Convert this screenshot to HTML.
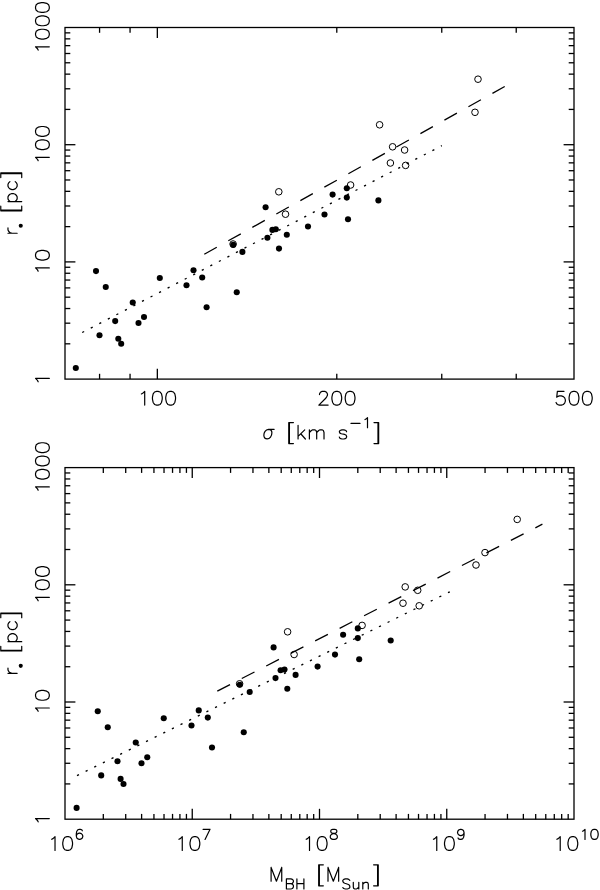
<!DOCTYPE html>
<html><head><meta charset="utf-8"><style>
html,body{margin:0;padding:0;background:#fff;}
svg{display:block;}
.t{font-family:"Liberation Sans",sans-serif;fill:#000;}
</style></head><body>
<svg width="600" height="890" viewBox="0 0 600 890">
<g stroke="#000" stroke-width="1.3" fill="none" stroke-linecap="butt">
<rect x="65.0" y="27.5" width="509.0" height="351.6" fill="none"/>
<line x1="65.00" y1="343.82" x2="70.30" y2="343.82"/>
<line x1="574.00" y1="343.82" x2="568.70" y2="343.82"/>
<line x1="65.00" y1="323.18" x2="70.30" y2="323.18"/>
<line x1="574.00" y1="323.18" x2="568.70" y2="323.18"/>
<line x1="65.00" y1="308.54" x2="70.30" y2="308.54"/>
<line x1="574.00" y1="308.54" x2="568.70" y2="308.54"/>
<line x1="65.00" y1="297.18" x2="70.30" y2="297.18"/>
<line x1="574.00" y1="297.18" x2="568.70" y2="297.18"/>
<line x1="65.00" y1="287.90" x2="70.30" y2="287.90"/>
<line x1="574.00" y1="287.90" x2="568.70" y2="287.90"/>
<line x1="65.00" y1="280.05" x2="70.30" y2="280.05"/>
<line x1="574.00" y1="280.05" x2="568.70" y2="280.05"/>
<line x1="65.00" y1="273.26" x2="70.30" y2="273.26"/>
<line x1="574.00" y1="273.26" x2="568.70" y2="273.26"/>
<line x1="65.00" y1="267.26" x2="70.30" y2="267.26"/>
<line x1="574.00" y1="267.26" x2="568.70" y2="267.26"/>
<line x1="65.00" y1="261.90" x2="75.40" y2="261.90"/>
<line x1="574.00" y1="261.90" x2="563.60" y2="261.90"/>
<line x1="65.00" y1="226.62" x2="70.30" y2="226.62"/>
<line x1="574.00" y1="226.62" x2="568.70" y2="226.62"/>
<line x1="65.00" y1="205.98" x2="70.30" y2="205.98"/>
<line x1="574.00" y1="205.98" x2="568.70" y2="205.98"/>
<line x1="65.00" y1="191.34" x2="70.30" y2="191.34"/>
<line x1="574.00" y1="191.34" x2="568.70" y2="191.34"/>
<line x1="65.00" y1="179.98" x2="70.30" y2="179.98"/>
<line x1="574.00" y1="179.98" x2="568.70" y2="179.98"/>
<line x1="65.00" y1="170.70" x2="70.30" y2="170.70"/>
<line x1="574.00" y1="170.70" x2="568.70" y2="170.70"/>
<line x1="65.00" y1="162.85" x2="70.30" y2="162.85"/>
<line x1="574.00" y1="162.85" x2="568.70" y2="162.85"/>
<line x1="65.00" y1="156.06" x2="70.30" y2="156.06"/>
<line x1="574.00" y1="156.06" x2="568.70" y2="156.06"/>
<line x1="65.00" y1="150.06" x2="70.30" y2="150.06"/>
<line x1="574.00" y1="150.06" x2="568.70" y2="150.06"/>
<line x1="65.00" y1="144.70" x2="75.40" y2="144.70"/>
<line x1="574.00" y1="144.70" x2="563.60" y2="144.70"/>
<line x1="65.00" y1="109.42" x2="70.30" y2="109.42"/>
<line x1="574.00" y1="109.42" x2="568.70" y2="109.42"/>
<line x1="65.00" y1="88.78" x2="70.30" y2="88.78"/>
<line x1="574.00" y1="88.78" x2="568.70" y2="88.78"/>
<line x1="65.00" y1="74.14" x2="70.30" y2="74.14"/>
<line x1="574.00" y1="74.14" x2="568.70" y2="74.14"/>
<line x1="65.00" y1="62.78" x2="70.30" y2="62.78"/>
<line x1="574.00" y1="62.78" x2="568.70" y2="62.78"/>
<line x1="65.00" y1="53.50" x2="70.30" y2="53.50"/>
<line x1="574.00" y1="53.50" x2="568.70" y2="53.50"/>
<line x1="65.00" y1="45.65" x2="70.30" y2="45.65"/>
<line x1="574.00" y1="45.65" x2="568.70" y2="45.65"/>
<line x1="65.00" y1="38.86" x2="70.30" y2="38.86"/>
<line x1="574.00" y1="38.86" x2="568.70" y2="38.86"/>
<line x1="65.00" y1="32.86" x2="70.30" y2="32.86"/>
<line x1="574.00" y1="32.86" x2="568.70" y2="32.86"/>
<line x1="99.57" y1="379.10" x2="99.57" y2="373.80"/>
<line x1="99.57" y1="27.50" x2="99.57" y2="32.80"/>
<line x1="130.06" y1="379.10" x2="130.06" y2="373.80"/>
<line x1="130.06" y1="27.50" x2="130.06" y2="32.80"/>
<line x1="157.34" y1="379.10" x2="157.34" y2="368.70"/>
<line x1="157.34" y1="27.50" x2="157.34" y2="37.90"/>
<line x1="336.78" y1="379.10" x2="336.78" y2="373.80"/>
<line x1="336.78" y1="27.50" x2="336.78" y2="32.80"/>
<line x1="441.75" y1="379.10" x2="441.75" y2="373.80"/>
<line x1="441.75" y1="27.50" x2="441.75" y2="32.80"/>
<line x1="516.23" y1="379.10" x2="516.23" y2="373.80"/>
<line x1="516.23" y1="27.50" x2="516.23" y2="32.80"/>
<rect x="65.0" y="467.6" width="509.0" height="351.6" fill="none"/>
<line x1="65.00" y1="783.92" x2="70.30" y2="783.92"/>
<line x1="574.00" y1="783.92" x2="568.70" y2="783.92"/>
<line x1="65.00" y1="763.28" x2="70.30" y2="763.28"/>
<line x1="574.00" y1="763.28" x2="568.70" y2="763.28"/>
<line x1="65.00" y1="748.64" x2="70.30" y2="748.64"/>
<line x1="574.00" y1="748.64" x2="568.70" y2="748.64"/>
<line x1="65.00" y1="737.28" x2="70.30" y2="737.28"/>
<line x1="574.00" y1="737.28" x2="568.70" y2="737.28"/>
<line x1="65.00" y1="728.00" x2="70.30" y2="728.00"/>
<line x1="574.00" y1="728.00" x2="568.70" y2="728.00"/>
<line x1="65.00" y1="720.15" x2="70.30" y2="720.15"/>
<line x1="574.00" y1="720.15" x2="568.70" y2="720.15"/>
<line x1="65.00" y1="713.36" x2="70.30" y2="713.36"/>
<line x1="574.00" y1="713.36" x2="568.70" y2="713.36"/>
<line x1="65.00" y1="707.36" x2="70.30" y2="707.36"/>
<line x1="574.00" y1="707.36" x2="568.70" y2="707.36"/>
<line x1="65.00" y1="702.00" x2="75.40" y2="702.00"/>
<line x1="574.00" y1="702.00" x2="563.60" y2="702.00"/>
<line x1="65.00" y1="666.72" x2="70.30" y2="666.72"/>
<line x1="574.00" y1="666.72" x2="568.70" y2="666.72"/>
<line x1="65.00" y1="646.08" x2="70.30" y2="646.08"/>
<line x1="574.00" y1="646.08" x2="568.70" y2="646.08"/>
<line x1="65.00" y1="631.44" x2="70.30" y2="631.44"/>
<line x1="574.00" y1="631.44" x2="568.70" y2="631.44"/>
<line x1="65.00" y1="620.08" x2="70.30" y2="620.08"/>
<line x1="574.00" y1="620.08" x2="568.70" y2="620.08"/>
<line x1="65.00" y1="610.80" x2="70.30" y2="610.80"/>
<line x1="574.00" y1="610.80" x2="568.70" y2="610.80"/>
<line x1="65.00" y1="602.95" x2="70.30" y2="602.95"/>
<line x1="574.00" y1="602.95" x2="568.70" y2="602.95"/>
<line x1="65.00" y1="596.16" x2="70.30" y2="596.16"/>
<line x1="574.00" y1="596.16" x2="568.70" y2="596.16"/>
<line x1="65.00" y1="590.16" x2="70.30" y2="590.16"/>
<line x1="574.00" y1="590.16" x2="568.70" y2="590.16"/>
<line x1="65.00" y1="584.80" x2="75.40" y2="584.80"/>
<line x1="574.00" y1="584.80" x2="563.60" y2="584.80"/>
<line x1="65.00" y1="549.52" x2="70.30" y2="549.52"/>
<line x1="574.00" y1="549.52" x2="568.70" y2="549.52"/>
<line x1="65.00" y1="528.88" x2="70.30" y2="528.88"/>
<line x1="574.00" y1="528.88" x2="568.70" y2="528.88"/>
<line x1="65.00" y1="514.24" x2="70.30" y2="514.24"/>
<line x1="574.00" y1="514.24" x2="568.70" y2="514.24"/>
<line x1="65.00" y1="502.88" x2="70.30" y2="502.88"/>
<line x1="574.00" y1="502.88" x2="568.70" y2="502.88"/>
<line x1="65.00" y1="493.60" x2="70.30" y2="493.60"/>
<line x1="574.00" y1="493.60" x2="568.70" y2="493.60"/>
<line x1="65.00" y1="485.75" x2="70.30" y2="485.75"/>
<line x1="574.00" y1="485.75" x2="568.70" y2="485.75"/>
<line x1="65.00" y1="478.96" x2="70.30" y2="478.96"/>
<line x1="574.00" y1="478.96" x2="568.70" y2="478.96"/>
<line x1="65.00" y1="472.96" x2="70.30" y2="472.96"/>
<line x1="574.00" y1="472.96" x2="568.70" y2="472.96"/>
<line x1="103.31" y1="819.20" x2="103.31" y2="813.90"/>
<line x1="103.31" y1="467.60" x2="103.31" y2="472.90"/>
<line x1="125.71" y1="819.20" x2="125.71" y2="813.90"/>
<line x1="125.71" y1="467.60" x2="125.71" y2="472.90"/>
<line x1="141.61" y1="819.20" x2="141.61" y2="813.90"/>
<line x1="141.61" y1="467.60" x2="141.61" y2="472.90"/>
<line x1="153.94" y1="819.20" x2="153.94" y2="813.90"/>
<line x1="153.94" y1="467.60" x2="153.94" y2="472.90"/>
<line x1="164.02" y1="819.20" x2="164.02" y2="813.90"/>
<line x1="164.02" y1="467.60" x2="164.02" y2="472.90"/>
<line x1="172.54" y1="819.20" x2="172.54" y2="813.90"/>
<line x1="172.54" y1="467.60" x2="172.54" y2="472.90"/>
<line x1="179.92" y1="819.20" x2="179.92" y2="813.90"/>
<line x1="179.92" y1="467.60" x2="179.92" y2="472.90"/>
<line x1="186.43" y1="819.20" x2="186.43" y2="813.90"/>
<line x1="186.43" y1="467.60" x2="186.43" y2="472.90"/>
<line x1="192.25" y1="819.20" x2="192.25" y2="808.80"/>
<line x1="192.25" y1="467.60" x2="192.25" y2="478.00"/>
<line x1="230.56" y1="819.20" x2="230.56" y2="813.90"/>
<line x1="230.56" y1="467.60" x2="230.56" y2="472.90"/>
<line x1="252.96" y1="819.20" x2="252.96" y2="813.90"/>
<line x1="252.96" y1="467.60" x2="252.96" y2="472.90"/>
<line x1="268.86" y1="819.20" x2="268.86" y2="813.90"/>
<line x1="268.86" y1="467.60" x2="268.86" y2="472.90"/>
<line x1="281.19" y1="819.20" x2="281.19" y2="813.90"/>
<line x1="281.19" y1="467.60" x2="281.19" y2="472.90"/>
<line x1="291.27" y1="819.20" x2="291.27" y2="813.90"/>
<line x1="291.27" y1="467.60" x2="291.27" y2="472.90"/>
<line x1="299.79" y1="819.20" x2="299.79" y2="813.90"/>
<line x1="299.79" y1="467.60" x2="299.79" y2="472.90"/>
<line x1="307.17" y1="819.20" x2="307.17" y2="813.90"/>
<line x1="307.17" y1="467.60" x2="307.17" y2="472.90"/>
<line x1="313.68" y1="819.20" x2="313.68" y2="813.90"/>
<line x1="313.68" y1="467.60" x2="313.68" y2="472.90"/>
<line x1="319.50" y1="819.20" x2="319.50" y2="808.80"/>
<line x1="319.50" y1="467.60" x2="319.50" y2="478.00"/>
<line x1="357.81" y1="819.20" x2="357.81" y2="813.90"/>
<line x1="357.81" y1="467.60" x2="357.81" y2="472.90"/>
<line x1="380.21" y1="819.20" x2="380.21" y2="813.90"/>
<line x1="380.21" y1="467.60" x2="380.21" y2="472.90"/>
<line x1="396.11" y1="819.20" x2="396.11" y2="813.90"/>
<line x1="396.11" y1="467.60" x2="396.11" y2="472.90"/>
<line x1="408.44" y1="819.20" x2="408.44" y2="813.90"/>
<line x1="408.44" y1="467.60" x2="408.44" y2="472.90"/>
<line x1="418.52" y1="819.20" x2="418.52" y2="813.90"/>
<line x1="418.52" y1="467.60" x2="418.52" y2="472.90"/>
<line x1="427.04" y1="819.20" x2="427.04" y2="813.90"/>
<line x1="427.04" y1="467.60" x2="427.04" y2="472.90"/>
<line x1="434.42" y1="819.20" x2="434.42" y2="813.90"/>
<line x1="434.42" y1="467.60" x2="434.42" y2="472.90"/>
<line x1="440.93" y1="819.20" x2="440.93" y2="813.90"/>
<line x1="440.93" y1="467.60" x2="440.93" y2="472.90"/>
<line x1="446.75" y1="819.20" x2="446.75" y2="808.80"/>
<line x1="446.75" y1="467.60" x2="446.75" y2="478.00"/>
<line x1="485.06" y1="819.20" x2="485.06" y2="813.90"/>
<line x1="485.06" y1="467.60" x2="485.06" y2="472.90"/>
<line x1="507.46" y1="819.20" x2="507.46" y2="813.90"/>
<line x1="507.46" y1="467.60" x2="507.46" y2="472.90"/>
<line x1="523.36" y1="819.20" x2="523.36" y2="813.90"/>
<line x1="523.36" y1="467.60" x2="523.36" y2="472.90"/>
<line x1="535.69" y1="819.20" x2="535.69" y2="813.90"/>
<line x1="535.69" y1="467.60" x2="535.69" y2="472.90"/>
<line x1="545.77" y1="819.20" x2="545.77" y2="813.90"/>
<line x1="545.77" y1="467.60" x2="545.77" y2="472.90"/>
<line x1="554.29" y1="819.20" x2="554.29" y2="813.90"/>
<line x1="554.29" y1="467.60" x2="554.29" y2="472.90"/>
<line x1="561.67" y1="819.20" x2="561.67" y2="813.90"/>
<line x1="561.67" y1="467.60" x2="561.67" y2="472.90"/>
<line x1="568.18" y1="819.20" x2="568.18" y2="813.90"/>
<line x1="568.18" y1="467.60" x2="568.18" y2="472.90"/>
</g>
<g stroke="#000" fill="none">
<line x1="204.3" y1="254.2" x2="504.7" y2="86.5" stroke-dasharray="14.3 13.2" stroke-width="1.3"/>
<line x1="82.2" y1="332.5" x2="441.8" y2="145.67" stroke-dasharray="2.2 7.425" stroke-width="1.35"/>
<line x1="217.3" y1="691.1" x2="542.4" y2="524.2" stroke-dasharray="14.3 13.2" stroke-width="1.3"/>
<line x1="77.0" y1="775.7" x2="449.8" y2="591.8" stroke-dasharray="2.2 7.420" stroke-width="1.35"/>
</g>
<g>
<circle cx="233.1" cy="244.0" r="3.3" fill="none" stroke="#000" stroke-width="1.0"/>
<circle cx="278.8" cy="191.8" r="3.3" fill="none" stroke="#000" stroke-width="1.0"/>
<circle cx="285.5" cy="214.2" r="3.3" fill="none" stroke="#000" stroke-width="1.0"/>
<circle cx="350.6" cy="185" r="3.3" fill="none" stroke="#000" stroke-width="1.0"/>
<circle cx="379.6" cy="124.8" r="3.3" fill="none" stroke="#000" stroke-width="1.0"/>
<circle cx="392.6" cy="146.8" r="3.3" fill="none" stroke="#000" stroke-width="1.0"/>
<circle cx="404.6" cy="150" r="3.3" fill="none" stroke="#000" stroke-width="1.0"/>
<circle cx="390.4" cy="163" r="3.3" fill="none" stroke="#000" stroke-width="1.0"/>
<circle cx="405.6" cy="165.4" r="3.3" fill="none" stroke="#000" stroke-width="1.0"/>
<circle cx="475" cy="112.3" r="3.3" fill="none" stroke="#000" stroke-width="1.0"/>
<circle cx="478" cy="79.2" r="3.3" fill="none" stroke="#000" stroke-width="1.0"/>
<circle cx="239.6" cy="683.8" r="3.3" fill="none" stroke="#000" stroke-width="1.0"/>
<circle cx="287.6" cy="631.8" r="3.3" fill="none" stroke="#000" stroke-width="1.0"/>
<circle cx="294.1" cy="654.5" r="3.3" fill="none" stroke="#000" stroke-width="1.0"/>
<circle cx="362.1" cy="625.4" r="3.3" fill="none" stroke="#000" stroke-width="1.0"/>
<circle cx="405.2" cy="586.9" r="3.3" fill="none" stroke="#000" stroke-width="1.0"/>
<circle cx="417.7" cy="590.3" r="3.3" fill="none" stroke="#000" stroke-width="1.0"/>
<circle cx="403" cy="603.2" r="3.3" fill="none" stroke="#000" stroke-width="1.0"/>
<circle cx="419.2" cy="605.8" r="3.3" fill="none" stroke="#000" stroke-width="1.0"/>
<circle cx="476" cy="565" r="3.3" fill="none" stroke="#000" stroke-width="1.0"/>
<circle cx="485" cy="552.6" r="3.3" fill="none" stroke="#000" stroke-width="1.0"/>
<circle cx="517.2" cy="519.4" r="3.3" fill="none" stroke="#000" stroke-width="1.0"/>
<circle cx="75.8" cy="368.0" r="3.05"/>
<circle cx="96" cy="271.1" r="3.05"/>
<circle cx="105.75" cy="287" r="3.05"/>
<circle cx="99.5" cy="335.2" r="3.05"/>
<circle cx="115.2" cy="321.1" r="3.05"/>
<circle cx="118.3" cy="338.7" r="3.05"/>
<circle cx="121.2" cy="343.7" r="3.05"/>
<circle cx="132.75" cy="302.5" r="3.05"/>
<circle cx="138.5" cy="323" r="3.05"/>
<circle cx="144" cy="317" r="3.05"/>
<circle cx="159.8" cy="278" r="3.05"/>
<circle cx="186.5" cy="285.3" r="3.05"/>
<circle cx="193.5" cy="270.2" r="3.05"/>
<circle cx="202.2" cy="277.5" r="3.05"/>
<circle cx="206.6" cy="307.25" r="3.05"/>
<circle cx="233.2" cy="244.9" r="3.05"/>
<circle cx="242.4" cy="251.9" r="3.05"/>
<circle cx="236.75" cy="292.25" r="3.05"/>
<circle cx="265.6" cy="207.2" r="3.05"/>
<circle cx="267.4" cy="237.8" r="3.05"/>
<circle cx="272.4" cy="229.9" r="3.05"/>
<circle cx="275.8" cy="229.2" r="3.05"/>
<circle cx="279" cy="248.6" r="3.05"/>
<circle cx="286.8" cy="234.8" r="3.05"/>
<circle cx="308" cy="226.5" r="3.05"/>
<circle cx="324.5" cy="214.5" r="3.05"/>
<circle cx="332.6" cy="194.6" r="3.05"/>
<circle cx="346.8" cy="188.2" r="3.05"/>
<circle cx="346.8" cy="197.6" r="3.05"/>
<circle cx="348" cy="219.2" r="3.05"/>
<circle cx="378.4" cy="200.4" r="3.05"/>
<circle cx="76.6" cy="807.9" r="3.05"/>
<circle cx="97.75" cy="711.2" r="3.05"/>
<circle cx="107.75" cy="727.2" r="3.05"/>
<circle cx="101.2" cy="775.4" r="3.05"/>
<circle cx="117.5" cy="761.3" r="3.05"/>
<circle cx="120.6" cy="778.9" r="3.05"/>
<circle cx="123.5" cy="784" r="3.05"/>
<circle cx="135.75" cy="742.5" r="3.05"/>
<circle cx="141.5" cy="763.2" r="3.05"/>
<circle cx="147.25" cy="757.2" r="3.05"/>
<circle cx="163.75" cy="718.2" r="3.05"/>
<circle cx="191.5" cy="725.5" r="3.05"/>
<circle cx="198.75" cy="710.4" r="3.05"/>
<circle cx="207.8" cy="717.6" r="3.05"/>
<circle cx="212" cy="747.5" r="3.05"/>
<circle cx="239.8" cy="684.7" r="3.05"/>
<circle cx="249.7" cy="692.0" r="3.05"/>
<circle cx="243.75" cy="732.3" r="3.05"/>
<circle cx="273.6" cy="647.4" r="3.05"/>
<circle cx="275.5" cy="678.1" r="3.05"/>
<circle cx="280.6" cy="670.2" r="3.05"/>
<circle cx="284.5" cy="669.6" r="3.05"/>
<circle cx="287.3" cy="688.7" r="3.05"/>
<circle cx="295.6" cy="674.9" r="3.05"/>
<circle cx="317.6" cy="666.6" r="3.05"/>
<circle cx="335" cy="654.6" r="3.05"/>
<circle cx="343.1" cy="634.8" r="3.05"/>
<circle cx="357.8" cy="628.4" r="3.05"/>
<circle cx="357.8" cy="638.1" r="3.05"/>
<circle cx="359.2" cy="659.2" r="3.05"/>
<circle cx="390.7" cy="640.5" r="3.05"/>
</g>
<g fill="none" stroke="#000" stroke-width="1.2" stroke-linecap="round" stroke-linejoin="round">
<path d="M38.16 381.76 L37.51 380.43 L35.54 378.44 L49.30 378.44"/>
<path d="M38.16 271.21 L37.51 269.88 L35.54 267.89 L49.30 267.89 M35.54 255.95 L36.20 258.04 L38.16 259.44 L41.44 260.14 L43.40 260.14 L46.68 259.44 L48.64 258.04 L49.30 255.95 L49.30 254.55 L48.64 252.46 L46.68 251.06 L43.40 250.36 L41.44 250.36 L38.16 251.06 L36.20 252.46 L35.54 254.55 L35.54 255.95"/>
<path d="M38.16 160.66 L37.51 159.33 L35.54 157.34 L49.30 157.34 M35.54 145.40 L36.20 147.49 L38.16 148.89 L41.44 149.59 L43.40 149.59 L46.68 148.89 L48.64 147.49 L49.30 145.40 L49.30 144.00 L48.64 141.91 L46.68 140.51 L43.40 139.81 L41.44 139.81 L38.16 140.51 L36.20 141.91 L35.54 144.00 L35.54 145.40 M35.54 132.10 L36.20 134.19 L38.16 135.59 L41.44 136.29 L43.40 136.29 L46.68 135.59 L48.64 134.19 L49.30 132.10 L49.30 130.70 L48.64 128.61 L46.68 127.21 L43.40 126.51 L41.44 126.51 L38.16 127.21 L36.20 128.61 L35.54 130.70 L35.54 132.10"/>
<path d="M38.16 50.11 L37.51 48.78 L35.54 46.78 L49.30 46.78 M35.54 34.85 L36.20 36.94 L38.16 38.34 L41.44 39.04 L43.40 39.04 L46.68 38.34 L48.64 36.94 L49.30 34.85 L49.30 33.45 L48.64 31.36 L46.68 29.96 L43.40 29.26 L41.44 29.26 L38.16 29.96 L36.20 31.36 L35.54 33.45 L35.54 34.85 M35.54 21.55 L36.20 23.64 L38.16 25.04 L41.44 25.74 L43.40 25.74 L46.68 25.04 L48.64 23.64 L49.30 21.55 L49.30 20.15 L48.64 18.06 L46.68 16.66 L43.40 15.96 L41.44 15.96 L38.16 16.66 L36.20 18.06 L35.54 20.15 L35.54 21.55 M35.54 8.25 L36.20 10.34 L38.16 11.74 L41.44 12.44 L43.40 12.44 L46.68 11.74 L48.64 10.34 L49.30 8.25 L49.30 6.85 L48.64 4.76 L46.68 3.36 L43.40 2.66 L41.44 2.66 L38.16 3.36 L36.20 4.76 L35.54 6.85 L35.54 8.25"/>
<path d="M7.98 233.24 L17.15 233.24 M11.91 233.24 L9.94 232.58 L8.63 231.25 L7.98 229.91 L7.98 227.92"/>
<path d="M0.77 210.84 L21.73 210.84 M0.77 210.18 L21.73 210.18 M0.77 210.84 L0.77 206.19 M21.73 210.84 L21.73 206.19 M7.98 201.53 L21.73 201.53 M9.94 201.53 L8.63 200.20 L7.98 198.87 L7.98 196.88 L8.63 195.54 L9.94 194.22 L11.91 193.55 L13.22 193.55 L15.18 194.22 L16.49 195.54 L17.15 196.88 L17.15 198.87 L16.49 200.20 L15.18 201.53 M9.94 181.58 L8.63 182.91 L7.98 184.24 L7.98 186.24 L8.63 187.56 L9.94 188.90 L11.91 189.56 L13.22 189.56 L15.18 188.90 L16.49 187.56 L17.15 186.24 L17.15 184.24 L16.49 182.91 L15.18 181.58 M0.77 173.60 L21.73 173.60 M0.77 172.94 L21.73 172.94 M0.77 177.59 L0.77 172.94 M21.73 177.59 L21.73 172.94"/>
<path d="M38.16 821.86 L37.51 820.53 L35.54 818.53 L49.30 818.53"/>
<path d="M38.16 711.31 L37.51 709.98 L35.54 707.98 L49.30 707.98 M35.54 696.05 L36.20 698.14 L38.16 699.54 L41.44 700.24 L43.40 700.24 L46.68 699.54 L48.64 698.14 L49.30 696.05 L49.30 694.65 L48.64 692.56 L46.68 691.16 L43.40 690.46 L41.44 690.46 L38.16 691.16 L36.20 692.56 L35.54 694.65 L35.54 696.05"/>
<path d="M38.16 600.76 L37.51 599.43 L35.54 597.44 L49.30 597.44 M35.54 585.50 L36.20 587.59 L38.16 588.99 L41.44 589.69 L43.40 589.69 L46.68 588.99 L48.64 587.59 L49.30 585.50 L49.30 584.10 L48.64 582.01 L46.68 580.61 L43.40 579.91 L41.44 579.91 L38.16 580.61 L36.20 582.01 L35.54 584.10 L35.54 585.50 M35.54 572.20 L36.20 574.29 L38.16 575.69 L41.44 576.39 L43.40 576.39 L46.68 575.69 L48.64 574.29 L49.30 572.20 L49.30 570.80 L48.64 568.71 L46.68 567.31 L43.40 566.61 L41.44 566.61 L38.16 567.31 L36.20 568.71 L35.54 570.80 L35.54 572.20"/>
<path d="M38.16 490.21 L37.51 488.88 L35.54 486.88 L49.30 486.88 M35.54 474.95 L36.20 477.04 L38.16 478.44 L41.44 479.14 L43.40 479.14 L46.68 478.44 L48.64 477.04 L49.30 474.95 L49.30 473.55 L48.64 471.46 L46.68 470.06 L43.40 469.36 L41.44 469.36 L38.16 470.06 L36.20 471.46 L35.54 473.55 L35.54 474.95 M35.54 461.65 L36.20 463.74 L38.16 465.14 L41.44 465.84 L43.40 465.84 L46.68 465.14 L48.64 463.74 L49.30 461.65 L49.30 460.25 L48.64 458.16 L46.68 456.76 L43.40 456.06 L41.44 456.06 L38.16 456.76 L36.20 458.16 L35.54 460.25 L35.54 461.65 M35.54 448.35 L36.20 450.44 L38.16 451.84 L41.44 452.54 L43.40 452.54 L46.68 451.84 L48.64 450.44 L49.30 448.35 L49.30 446.95 L48.64 444.86 L46.68 443.46 L43.40 442.76 L41.44 442.76 L38.16 443.46 L36.20 444.86 L35.54 446.95 L35.54 448.35"/>
<path d="M7.98 673.34 L17.15 673.34 M11.91 673.34 L9.94 672.67 L8.63 671.35 L7.98 670.01 L7.98 668.02"/>
<path d="M0.77 650.94 L21.73 650.94 M0.77 650.27 L21.73 650.27 M0.77 650.94 L0.77 646.28 M21.73 650.94 L21.73 646.28 M7.98 641.63 L21.73 641.63 M9.94 641.63 L8.63 640.30 L7.98 638.97 L7.98 636.98 L8.63 635.65 L9.94 634.32 L11.91 633.65 L13.22 633.65 L15.18 634.32 L16.49 635.65 L17.15 636.98 L17.15 638.97 L16.49 640.30 L15.18 641.63 M9.94 621.68 L8.63 623.01 L7.98 624.34 L7.98 626.34 L8.63 627.67 L9.94 629.00 L11.91 629.66 L13.22 629.66 L15.18 629.00 L16.49 627.67 L17.15 626.34 L17.15 624.34 L16.49 623.01 L15.18 621.68 M0.77 613.70 L21.73 613.70 M0.77 613.04 L21.73 613.04 M0.77 617.69 L0.77 613.04 M21.73 617.69 L21.73 613.04"/>
<path d="M141.38 393.97 L142.71 393.31 L144.70 391.35 L144.70 405.10 M156.64 391.35 L154.55 392.00 L153.15 393.97 L152.45 397.24 L152.45 399.21 L153.15 402.48 L154.55 404.45 L156.64 405.10 L158.04 405.10 L160.13 404.45 L161.53 402.48 L162.23 399.21 L162.23 397.24 L161.53 393.97 L160.13 392.00 L158.04 391.35 L156.64 391.35 M169.94 391.35 L167.85 392.00 L166.45 393.97 L165.75 397.24 L165.75 399.21 L166.45 402.48 L167.85 404.45 L169.94 405.10 L171.34 405.10 L173.43 404.45 L174.83 402.48 L175.53 399.21 L175.53 397.24 L174.83 393.97 L173.43 392.00 L171.34 391.35 L169.94 391.35"/>
<path d="M319.49 394.62 L319.49 393.97 L320.16 392.66 L320.82 392.00 L322.15 391.35 L324.81 391.35 L326.14 392.00 L326.81 392.66 L327.47 393.97 L327.47 395.28 L326.81 396.59 L325.48 398.55 L318.83 405.10 L328.14 405.10 M336.09 391.35 L333.99 392.00 L332.60 393.97 L331.90 397.24 L331.90 399.21 L332.60 402.48 L333.99 404.45 L336.09 405.10 L337.48 405.10 L339.58 404.45 L340.97 402.48 L341.67 399.21 L341.67 397.24 L340.97 393.97 L339.58 392.00 L337.48 391.35 L336.09 391.35 M349.39 391.35 L347.29 392.00 L345.90 393.97 L345.20 397.24 L345.20 399.21 L345.90 402.48 L347.29 404.45 L349.39 405.10 L350.78 405.10 L352.88 404.45 L354.27 402.48 L354.97 399.21 L354.97 397.24 L354.27 393.97 L352.88 392.00 L350.78 391.35 L349.39 391.35"/>
<path d="M564.02 391.35 L557.37 391.35 L556.71 397.24 L557.37 396.59 L559.37 395.93 L561.36 395.93 L563.36 396.59 L564.69 397.90 L565.35 399.86 L565.35 401.17 L564.69 403.14 L563.36 404.45 L561.36 405.10 L559.37 405.10 L557.37 404.45 L556.71 403.79 L556.04 402.48 M573.30 391.35 L571.21 392.00 L569.81 393.97 L569.11 397.24 L569.11 399.21 L569.81 402.48 L571.21 404.45 L573.30 405.10 L574.70 405.10 L576.79 404.45 L578.19 402.48 L578.89 399.21 L578.89 397.24 L578.19 393.97 L576.79 392.00 L574.70 391.35 L573.30 391.35 M586.60 391.35 L584.51 392.00 L583.11 393.97 L582.41 397.24 L582.41 399.21 L583.11 402.48 L584.51 404.45 L586.60 405.10 L588.00 405.10 L590.09 404.45 L591.49 402.48 L592.19 399.21 L592.19 397.24 L591.49 393.97 L590.09 392.00 L588.00 391.35 L586.60 391.35"/>
<path d="M274.15 429.3 L268.5 429.3 C265.5 429.5 263.8 432.5 263.85 435.3 C263.9 437.5 265.2 438.9 267.2 438.9 C269.8 438.9 271.9 436 271.9 432.8 C271.9 430.5 270.5 429.3 268.5 429.3"/>
<path d="M288.76 422.62 L288.76 443.58 M289.43 422.62 L289.43 443.58 M288.76 422.62 L293.42 422.62 M288.76 443.58 L293.42 443.58 M298.07 425.25 L298.07 439.00 M304.72 429.83 L298.07 436.38 M300.73 433.76 L305.39 439.00 M309.38 429.83 L309.38 439.00 M309.38 432.45 L311.37 430.49 L312.70 429.83 L314.70 429.83 L316.03 430.49 L316.69 432.45 L316.69 439.00 M316.69 432.45 L318.69 430.49 L320.02 429.83 L322.01 429.83 L323.34 430.49 L324.01 432.45 L324.01 439.00 M346.62 431.80 L345.95 430.49 L343.95 429.83 L341.96 429.83 L339.97 430.49 L339.30 431.80 L339.97 433.11 L341.30 433.76 L344.62 434.42 L345.95 435.07 L346.62 436.38 L346.62 437.04 L345.95 438.35 L343.95 439.00 L341.96 439.00 L339.97 438.35 L339.30 437.04"/>
<path d="M351.00 423.38 L360.00 423.38 M365.00 419.54 L366.00 419.06 L367.50 417.62 L367.50 427.70"/>
<path d="M377.99 422.62 L377.99 443.58 M378.65 422.62 L378.65 443.58 M374.00 422.62 L378.65 422.62 M374.00 443.58 L378.65 443.58"/>
<path d="M51.69 839.26 L53.02 838.61 L55.02 836.64 L55.02 850.40 M66.95 836.64 L64.86 837.30 L63.46 839.26 L62.76 842.54 L62.76 844.50 L63.46 847.78 L64.86 849.75 L66.95 850.40 L68.35 850.40 L70.44 849.75 L71.84 847.78 L72.54 844.50 L72.54 842.54 L71.84 839.26 L70.44 837.30 L68.35 836.64 L66.95 836.64"/>
<path d="M82.30 830.76 L81.80 829.80 L80.30 829.32 L79.30 829.32 L77.80 829.80 L76.80 831.24 L76.30 833.64 L76.30 836.04 L76.80 837.96 L77.80 838.92 L79.30 839.40 L79.80 839.40 L81.30 838.92 L82.30 837.96 L82.80 836.52 L82.80 836.04 L82.30 834.60 L81.30 833.64 L79.80 833.16 L79.30 833.16 L77.80 833.64 L76.80 834.60 L76.30 836.04"/>
<path d="M178.94 839.26 L180.27 838.61 L182.26 836.64 L182.26 850.40 M194.20 836.64 L192.11 837.30 L190.71 839.26 L190.01 842.54 L190.01 844.50 L190.71 847.78 L192.11 849.75 L194.20 850.40 L195.60 850.40 L197.69 849.75 L199.09 847.78 L199.79 844.50 L199.79 842.54 L199.09 839.26 L197.69 837.30 L195.60 836.64 L194.20 836.64"/>
<path d="M210.05 829.32 L205.05 839.40 M203.05 829.32 L210.05 829.32"/>
<path d="M306.19 839.26 L307.52 838.61 L309.51 836.64 L309.51 850.40 M321.45 836.64 L319.36 837.30 L317.96 839.26 L317.26 842.54 L317.26 844.50 L317.96 847.78 L319.36 849.75 L321.45 850.40 L322.85 850.40 L324.94 849.75 L326.34 847.78 L327.04 844.50 L327.04 842.54 L326.34 839.26 L324.94 837.30 L322.85 836.64 L321.45 836.64"/>
<path d="M332.80 829.32 L331.30 829.80 L330.80 830.76 L330.80 831.72 L331.30 832.68 L332.30 833.16 L334.30 833.64 L335.80 834.12 L336.80 835.08 L337.30 836.04 L337.30 837.48 L336.80 838.44 L336.30 838.92 L334.80 839.40 L332.80 839.40 L331.30 838.92 L330.80 838.44 L330.30 837.48 L330.30 836.04 L330.80 835.08 L331.80 834.12 L333.30 833.64 L335.30 833.16 L336.30 832.68 L336.80 831.72 L336.80 830.76 L336.30 829.80 L334.80 829.32 L332.80 829.32"/>
<path d="M433.44 839.26 L434.77 838.61 L436.76 836.64 L436.76 850.40 M448.70 836.64 L446.61 837.30 L445.21 839.26 L444.51 842.54 L444.51 844.50 L445.21 847.78 L446.61 849.75 L448.70 850.40 L450.10 850.40 L452.19 849.75 L453.59 847.78 L454.29 844.50 L454.29 842.54 L453.59 839.26 L452.19 837.30 L450.10 836.64 L448.70 836.64"/>
<path d="M464.05 832.68 L463.55 834.12 L462.55 835.08 L461.05 835.56 L460.55 835.56 L459.05 835.08 L458.05 834.12 L457.55 832.68 L457.55 832.20 L458.05 830.76 L459.05 829.80 L460.55 829.32 L461.05 829.32 L462.55 829.80 L463.55 830.76 L464.05 832.68 L464.05 835.08 L463.55 837.48 L462.55 838.92 L461.05 839.40 L460.05 839.40 L458.55 838.92 L458.05 837.96"/>
<path d="M556.89 839.26 L558.22 838.61 L560.22 836.64 L560.22 850.40 M572.15 836.64 L570.06 837.30 L568.66 839.26 L567.96 842.54 L567.96 844.50 L568.66 847.78 L570.06 849.75 L572.15 850.40 L573.55 850.40 L575.64 849.75 L577.04 847.78 L577.74 844.50 L577.74 842.54 L577.04 839.26 L575.64 837.30 L573.55 836.64 L572.15 836.64"/>
<path d="M582.50 831.24 L583.50 830.76 L585.00 829.32 L585.00 839.40 M593.97 829.32 L592.40 829.80 L591.35 831.24 L590.82 833.64 L590.82 835.08 L591.35 837.48 L592.40 838.92 L593.97 839.40 L595.02 839.40 L596.60 838.92 L597.65 837.48 L598.17 835.08 L598.17 833.64 L597.65 831.24 L596.60 829.80 L595.02 829.32 L593.97 829.32"/>
<path d="M271.10 867.45 L271.10 881.20 M271.10 867.45 L276.42 881.20 M281.74 867.45 L276.42 881.20 M281.74 867.45 L281.74 881.20"/>
<path d="M286.40 878.92 L286.40 889.00 M286.40 878.92 L290.90 878.92 L292.40 879.40 L292.90 879.88 L293.40 880.84 L293.40 881.80 L292.90 882.76 L292.40 883.24 L290.90 883.72 M286.40 883.72 L290.90 883.72 L292.40 884.20 L292.90 884.68 L293.40 885.64 L293.40 887.08 L292.90 888.04 L292.40 888.52 L290.90 889.00 L286.40 889.00 M296.90 878.92 L296.90 889.00 M303.90 878.92 L303.90 889.00 M296.90 883.72 L303.90 883.72"/>
<path d="M318.69 864.83 L318.69 885.79 M319.35 864.83 L319.35 885.79 M318.69 864.83 L323.34 864.83 M318.69 885.79 L323.34 885.79 M328.00 867.45 L328.00 881.20 M328.00 867.45 L333.32 881.20 M338.64 867.45 L333.32 881.20 M338.64 867.45 L338.64 881.20"/>
<path d="M349.80 880.36 L348.80 879.40 L347.30 878.92 L345.30 878.92 L343.80 879.40 L342.80 880.36 L342.80 881.32 L343.30 882.28 L343.80 882.76 L344.80 883.24 L347.80 884.20 L348.80 884.68 L349.30 885.16 L349.80 886.12 L349.80 887.56 L348.80 888.52 L347.30 889.00 L345.30 889.00 L343.80 888.52 L342.80 887.56 M353.30 882.28 L353.30 887.08 L353.80 888.52 L354.80 889.00 L356.30 889.00 L357.30 888.52 L358.80 887.08 M358.80 882.28 L358.80 889.00 M362.80 882.28 L362.80 889.00 M362.80 884.20 L364.30 882.76 L365.30 882.28 L366.80 882.28 L367.80 882.76 L368.30 884.20 L368.30 889.00"/>
<path d="M377.59 864.83 L377.59 885.79 M378.25 864.83 L378.25 885.79 M373.60 864.83 L378.25 864.83 M373.60 885.79 L378.25 885.79"/>
</g>
<g>
<circle cx="20.75" cy="225.75" r="2.05"/>
<circle cx="20.75" cy="665.85" r="2.05"/>
</g>
</svg>
</body></html>
